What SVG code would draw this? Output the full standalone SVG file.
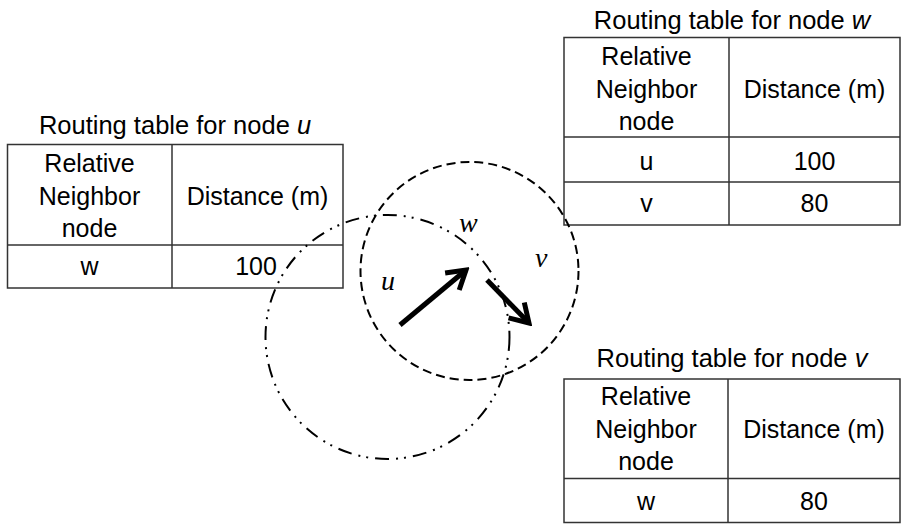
<svg xmlns="http://www.w3.org/2000/svg" width="901" height="524" viewBox="0 0 901 524">
  <style>
    .cell { fill: #ffffff; stroke: #333333; stroke-width: 1.5; }
    .grid { stroke: #333333; stroke-width: 1.5; fill: none; }
    .t { font-family: "Liberation Sans", Arial, sans-serif; font-size: 25px; fill: #000000; text-anchor: middle; }
    .title { font-family: "Liberation Sans", Arial, sans-serif; font-size: 25.5px; fill: #000000; text-anchor: middle; }
    .lbl { font-family: "Liberation Serif", "Times New Roman", serif; font-style: italic; font-size: 28px; fill: #000000; }
    .arrow { stroke: #000000; stroke-width: 5; fill: none; marker-end: url(#chev); }
  </style>
  <defs>
    <marker id="chev" markerUnits="userSpaceOnUse" viewBox="-24 -15 28 30" refX="0" refY="0" markerWidth="28" markerHeight="30" orient="auto">
      <path d="M -18,-11 L 0,0 L -18,11" fill="none" stroke="#000000" stroke-width="5" stroke-linejoin="miter" stroke-miterlimit="10"/>
    </marker>
  </defs>
  <rect width="901" height="524" fill="#ffffff"/>

  <!-- Routing table for node u -->
  <g id="table-u">
    <text class="title" x="175" y="134">Routing table for node <tspan font-style="italic">u</tspan></text>
    <rect class="cell" x="7.5" y="144.5" width="335.5" height="143.5"/>
    <line class="grid" x1="172" y1="144.5" x2="172" y2="288"/>
    <line class="grid" x1="7.5" y1="245" x2="343" y2="245"/>
    <text class="t" x="89.5" y="172">Relative</text>
    <text class="t" x="89.5" y="205">Neighbor</text>
    <text class="t" x="89.5" y="237">node</text>
    <text class="t" x="257.5" y="205">Distance (m)</text>
    <text class="t" x="89.5" y="275">w</text>
    <text class="t" x="256" y="275">100</text>
  </g>

  <!-- Routing table for node w -->
  <g id="table-w">
    <text class="title" x="732" y="29">Routing table for node <tspan font-style="italic">w</tspan></text>
    <rect class="cell" x="564" y="37.5" width="336" height="187.5"/>
    <line class="grid" x1="729" y1="37.5" x2="729" y2="225"/>
    <line class="grid" x1="564" y1="137" x2="900" y2="137"/>
    <line class="grid" x1="564" y1="182" x2="900" y2="182"/>
    <text class="t" x="646.5" y="65">Relative</text>
    <text class="t" x="646.5" y="98">Neighbor</text>
    <text class="t" x="646.5" y="130">node</text>
    <text class="t" x="814.5" y="98">Distance (m)</text>
    <text class="t" x="646.5" y="170">u</text>
    <text class="t" x="814.5" y="170">100</text>
    <text class="t" x="646.5" y="212">v</text>
    <text class="t" x="814.5" y="212">80</text>
  </g>

  <!-- Routing table for node v -->
  <g id="table-v">
    <text class="title" x="732" y="367">Routing table for node <tspan font-style="italic">v</tspan></text>
    <rect class="cell" x="564" y="379" width="336" height="143.5"/>
    <line class="grid" x1="728" y1="379" x2="728" y2="522.5"/>
    <line class="grid" x1="564" y1="478.5" x2="900" y2="478.5"/>
    <text class="t" x="646" y="405">Relative</text>
    <text class="t" x="646" y="438">Neighbor</text>
    <text class="t" x="646" y="470">node</text>
    <text class="t" x="814" y="438">Distance (m)</text>
    <text class="t" x="646" y="510">w</text>
    <text class="t" x="814" y="510">80</text>
  </g>

  <!-- Transmission ranges -->
  <g id="range-w">
    <circle cx="469.5" cy="271" r="109" fill="none" stroke="#000000" stroke-width="2" stroke-dasharray="9 5"/>
  </g>
  <g id="range-u">
    <circle cx="387.5" cy="337" r="122" fill="none" stroke="#000000" stroke-width="2" stroke-dasharray="14 7 2 6 2 7"/>
  </g>

  <!-- Node labels -->
  <g id="node-u"><text class="lbl" x="381" y="290">u</text></g>
  <g id="node-w"><text class="lbl" x="459" y="232">w</text></g>
  <g id="node-v"><text class="lbl" x="535" y="267">v</text></g>

  <!-- Connectors -->
  <g id="connectors">
    <line class="arrow" x1="400" y1="325" x2="466" y2="270"/>
    <line class="arrow" x1="487" y1="280" x2="529" y2="323"/>
  </g>
</svg>
